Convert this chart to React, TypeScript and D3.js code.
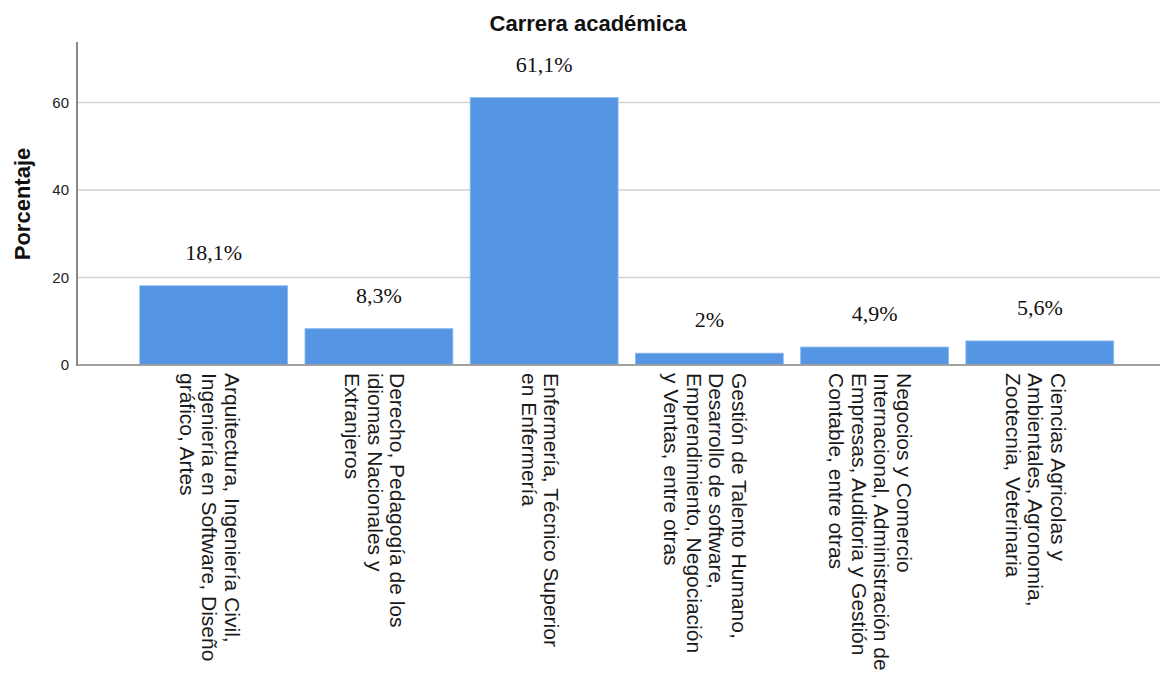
import { useRef, useEffect } from 'react';
import * as d3 from 'd3';

const categories: string[][] = [
  ['Arquitectura, Ingeniería Civil,', 'Ingeniería en Software, Diseño', 'gráfico, Artes'],
  ['Derecho, Pedagogía de los', 'idiomas Nacionales y', 'Extranjeros'],
  ['Enfermería, Técnico Superior', 'en Enfermería'],
  ['Gestión de Talento Humano,', 'Desarrollo de software,', 'Emprendimiento, Negociación', 'y Ventas, entre otras'],
  ['Negocios y Comercio', 'Internacional, Administración de', 'Empresas, Auditoria y Gestión', 'Contable, entre otras'],
  ['Ciencias Agricolas y', 'Ambientales, Agronomia,', 'Zootecnia, Veterinaria'],
];
const values = [18.1, 8.3, 61.1, 2.7, 4.1, 5.5];
const valueLabels = ['18,1%', '8,3%', '61,1%', '2%', '4,9%', '5,6%'];
const yTicks = [0, 20, 40, 60];

const width = 1163;
const height = 680;

export default function App() {
  const svgRef = useRef<SVGSVGElement | null>(null);

  useEffect(() => {
    if (!svgRef.current) return;
    const svg = d3.select(svgRef.current);
    svg.selectAll('*').remove();

    const axisX = 77;
    const plotRight = 1160;
    const plotTop = 42;
    const baseY = 365;

    const x = d3
      .scaleBand<number>()
      .domain(values.map((_, i) => i))
      .range([131.5, 1122])
      .paddingInner(0.105)
      .paddingOuter(0.05);

    const y = d3.scaleLinear().domain([0, 73.8]).range([baseY, plotTop]);

    const sans = 'Arial, "Liberation Sans", sans-serif';
    const serif = '"Times New Roman", "Liberation Serif", serif';

    // gridlines
    svg
      .append('g')
      .selectAll('line')
      .data(yTicks.filter((t) => t > 0))
      .join('line')
      .attr('x1', axisX)
      .attr('x2', plotRight)
      .attr('y1', (d) => y(d))
      .attr('y2', (d) => y(d))
      .attr('stroke', '#d2d2d2')
      .attr('stroke-width', 1.5);

    // bars
    svg
      .append('g')
      .selectAll('rect')
      .data(values)
      .join('rect')
      .attr('x', (_, i) => x(i)!)
      .attr('width', x.bandwidth())
      .attr('y', (d) => y(d))
      .attr('height', (d) => baseY - y(d))
      .attr('fill', '#5596e4')
      .attr('stroke', '#8cb8ee')
      .attr('stroke-width', 0.8);

    // baseline and y axis
    svg
      .append('line')
      .attr('x1', axisX)
      .attr('x2', plotRight)
      .attr('y1', baseY)
      .attr('y2', baseY)
      .attr('stroke', '#a0a0a0')
      .attr('stroke-width', 2);
    svg
      .append('line')
      .attr('x1', axisX)
      .attr('x2', axisX)
      .attr('y1', plotTop)
      .attr('y2', baseY + 1)
      .attr('stroke', '#8a8a8a')
      .attr('stroke-width', 2);

    // y tick labels
    svg
      .append('g')
      .selectAll('text')
      .data(yTicks)
      .join('text')
      .attr('x', 69)
      .attr('y', (d) => y(d))
      .attr('dy', '0.35em')
      .attr('text-anchor', 'end')
      .attr('font-family', sans)
      .attr('font-size', 15)
      .attr('fill', '#222')
      .text((d) => d);

    // value labels
    svg
      .append('g')
      .selectAll('text')
      .data(values)
      .join('text')
      .attr('x', (_, i) => x(i)! + x.bandwidth() / 2)
      .attr('y', (d) => y(d) - 26)
      .attr('text-anchor', 'middle')
      .attr('font-family', serif)
      .attr('font-size', 22)
      .attr('fill', '#111')
      .text((_, i) => valueLabels[i]);

    // category labels, rotated
    const lh = 22.5;
    categories.forEach((lines, i) => {
      const cx = x(i)! + x.bandwidth() / 2 - 4;
      const t = svg
        .append('text')
        .attr('transform', `translate(${cx},373) rotate(90)`)
        .attr('font-family', sans)
        .attr('font-size', 21)
        .attr('fill', '#1a1a1a');
      lines.forEach((line, j) => {
        t.append('tspan')
          .attr('x', 0)
          .attr('y', (j - (lines.length - 1) / 2) * lh)
          .attr('dy', '0.35em')
          .text(line);
      });
    });

    // axis title
    svg
      .append('text')
      .attr('transform', `translate(22,204) rotate(-90)`)
      .attr('dy', '0.35em')
      .attr('text-anchor', 'middle')
      .attr('font-family', sans)
      .attr('font-weight', 'bold')
      .attr('font-size', 22)
      .attr('fill', '#111')
      .text('Porcentaje');

    // chart title
    svg
      .append('text')
      .attr('x', 588)
      .attr('y', 31)
      .attr('text-anchor', 'middle')
      .attr('font-family', sans)
      .attr('font-weight', 'bold')
      .attr('font-size', 22)
      .attr('fill', '#111')
      .text('Carrera académica');
  }, []);

  return (
    <svg
      ref={svgRef}
      width={width}
      height={height}
      style={{ position: 'absolute', left: 0, top: 0, background: '#fff' }}
    />
  );
}
